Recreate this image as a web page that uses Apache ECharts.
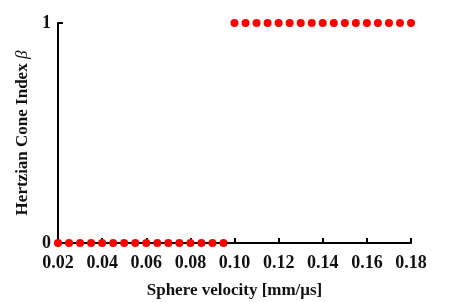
<!DOCTYPE html>
<html><head><meta charset="utf-8">
<script src="https://cdn.jsdelivr.net/npm/echarts@6/dist/echarts.min.js"></script>
<style>html,body{margin:0;padding:0;background:#fff}#c{width:454px;height:302px}</style>
</head><body><div id="c"></div>
<script>
const lowVelocity = [0.02,0.025,0.03,0.035,0.04,0.045,0.05,0.055,0.06,0.065,0.07,0.075,0.08,0.085,0.09,0.095];
const lowIndex = [0,0,0,0,0,0,0,0,0,0,0,0,0,0,0,0];
const highVelocity = [0.10,0.105,0.11,0.115,0.12,0.125,0.13,0.135,0.14,0.145,0.15,0.155,0.16,0.165,0.17,0.175,0.18];
const highIndex = [1,1,1,1,1,1,1,1,1,1,1,1,1,1,1,1,1];
const xTicks = [0.02,0.04,0.06,0.08,0.10,0.12,0.14,0.16,0.18];
const yTicks = [0,1];

const font = 'Liberation Serif';
const pts = lowVelocity.map((v,i)=>[v,lowIndex[i]]).concat(highVelocity.map((v,i)=>[v,highIndex[i]]));
const chart = echarts.init(document.getElementById('c'));
chart.setOption({
  animation:false,
  grid:{left:58,right:43,top:23,bottom:59,containLabel:false,outerBoundsMode:'none'},
  xAxis:{type:'value',min:xTicks[0],max:xTicks[xTicks.length-1],interval:0.02,
    name:'Sphere velocity [mm/μs]',nameLocation:'middle',nameGap:39,
    nameTextStyle:{fontFamily:font,fontWeight:'bold',fontSize:17,color:'#111'},
    axisLine:{lineStyle:{color:'#000',width:2}},
    axisTick:{inside:true,length:5,lineStyle:{color:'#000',width:2}},
    axisLabel:{fontFamily:font,fontWeight:'bold',fontSize:18,color:'#111',margin:11,formatter:v=>v.toFixed(2)},
    splitLine:{show:false}},
  yAxis:{type:'value',min:yTicks[0],max:yTicks[1],interval:1,
    name:'{a|Hertzian Cone Index }{b|β}',nameLocation:'middle',nameGap:27,nameRotate:90,
    nameTextStyle:{rich:{a:{fontFamily:font,fontWeight:'bold',fontSize:17,color:'#111'},b:{fontFamily:font,fontStyle:'italic',fontSize:17,color:'#111'}}},
    axisLine:{show:true,lineStyle:{color:'#000',width:2}},
    axisTick:{show:true,inside:true,length:5,lineStyle:{color:'#000',width:2}},
    axisLabel:{fontFamily:font,fontWeight:'bold',fontSize:18,color:'#111',margin:7},
    splitLine:{show:false}},
  series:[{type:'scatter',data:pts,symbol:'circle',symbolSize:8,itemStyle:{color:'#ff0000',opacity:1},z:5}]
});
</script></body></html>
